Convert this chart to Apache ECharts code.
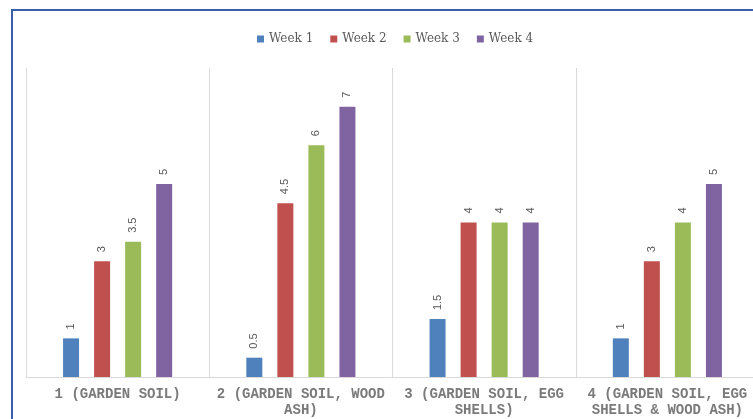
<!DOCTYPE html>
<html>
<head>
<meta charset="utf-8">
<script src="https://cdn.jsdelivr.net/npm/echarts@6/dist/echarts.min.js"></script>
<style>
  html, body { margin: 0; padding: 0; background: #fff; }
  #chart { width: 753px; height: 419px; }
</style>
</head>
<body>
<div id="chart"></div>
<script>
// categories and weekly values
const categories = [
  '1 (GARDEN SOIL)',
  '2 (GARDEN SOIL, WOOD\nASH)',
  '3 (GARDEN SOIL, EGG\nSHELLS)',
  '4 (GARDEN SOIL, EGG\nSHELLS & WOOD ASH)'
]
const week1 = [1, 0.5, 1.5, 1]
const week2 = [3, 4.5, 4, 3]
const week3 = [3.5, 6, 4, 4]
const week4 = [5, 7, 4, 5]

const seriesNames = ['Week 1', 'Week 2', 'Week 3', 'Week 4']
const seriesData = [week1, week2, week3, week4]
const colors = ['#4F81BD', '#C0504D', '#9BBB59', '#8064A2']

let myChart = echarts.init(document.getElementById('chart'))

myChart.setOption({
  animation: false,
  color: colors,
  legend: {
    left: 252,
    top: 28,
    icon: 'rect',
    itemWidth: 7,
    itemHeight: 7,
    itemGap: 17,
    textStyle: {
      fontFamily: 'DejaVu Serif',
      fontSize: 12,
      color: '#595959'
    },
    data: seriesNames
  },
  grid: {
    left: 26,
    width: 733,
    top: 68,
    bottom: 42,
    outerBoundsMode: 'none'
  },
  xAxis: {
    type: 'category',
    data: categories,
    axisLine: { lineStyle: { color: '#d9d9d9' } },
    axisTick: { show: false },
    splitLine: { show: true, lineStyle: { color: '#d9d9d9' } },
    axisLabel: {
      interval: 0,
      margin: 9,
      fontFamily: 'Liberation Mono',
      fontWeight: 'bold',
      fontSize: 14,
      lineHeight: 16,
      color: '#7a7a7a'
    }
  },
  yAxis: {
    type: 'value',
    min: 0,
    max: 8,
    show: false
  },
  series: seriesData.map((d, i) => ({
    name: seriesNames[i],
    type: 'bar',
    data: d,
    barWidth: 16,
    barGap: '94%',
    label: {
      show: true,
      position: 'top',
      rotate: 90,
      align: 'left',
      verticalAlign: 'middle',
      distance: 9,
      fontFamily: 'Liberation Sans',
      fontSize: 11,
      color: '#595959'
    }
  })),
  graphic: [{
    type: 'rect',
    silent: true,
    shape: { x: 12, y: 10, width: 800, height: 500 },
    style: { fill: 'none', stroke: '#3A5FAA', lineWidth: 2 }
  }]
})
</script>
</body>
</html>
